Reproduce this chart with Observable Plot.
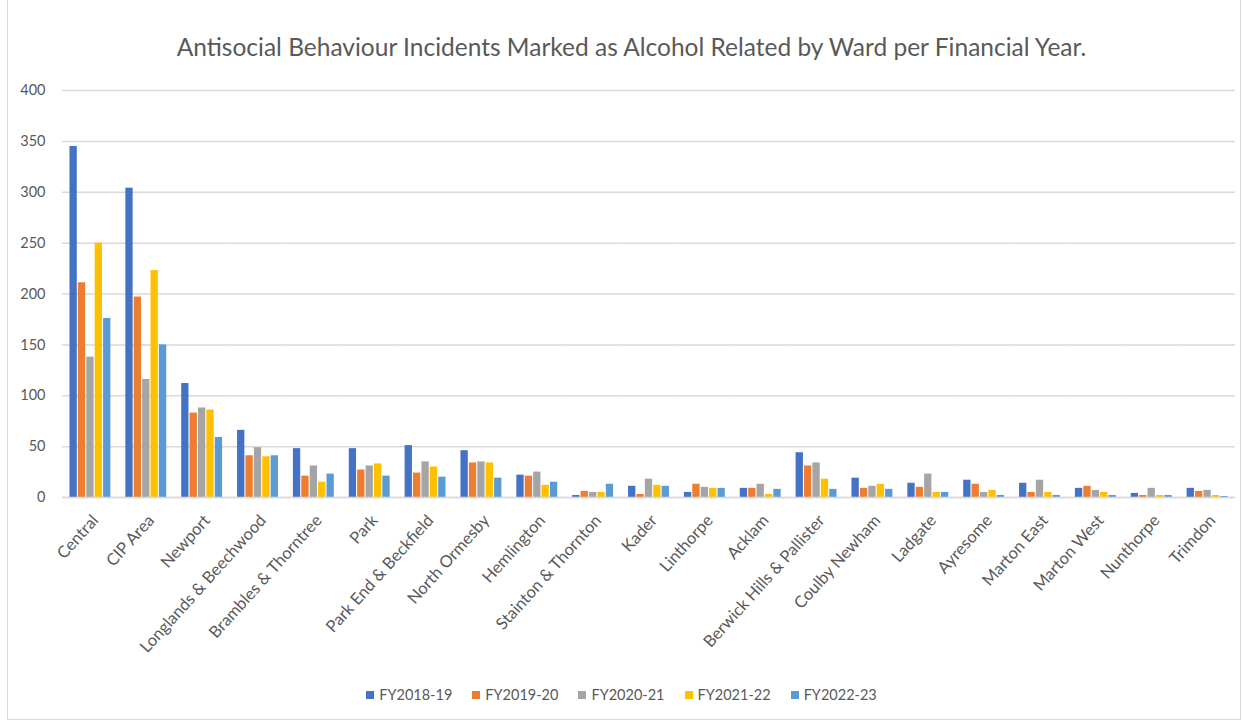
<!DOCTYPE html>
<html><head><meta charset="utf-8">
<script src="https://cdn.jsdelivr.net/npm/d3@7"></script>
<script src="https://cdn.jsdelivr.net/npm/@observablehq/plot@0.6"></script>
<style>
body{margin:0;background:#fff;font-family:Lato,"Open Sans",sans-serif;}
#frame{position:absolute;left:7px;top:-1px;width:1232px;height:719px;border:1px solid #d9d9d9;}
#title{position:absolute;top:35px;left:10px;width:1243px;text-align:center;font-size:24.5px;line-height:1;color:#595959;white-space:nowrap;}
#chart{position:absolute;top:75px;left:0;}
#legend{position:absolute;top:686px;left:0px;width:1243px;display:flex;justify-content:center;gap:20px;font-size:14.5px;line-height:18px;color:#595959;}
#legend .item{display:flex;align-items:center;gap:5px;}
#legend .sw{width:8px;height:8px;display:inline-block;}
</style></head>
<body>
<div id="frame"></div>
<div id="title">Antisocial Behaviour Incidents Marked as Alcohol Related by Ward per Financial Year.</div>
<div id="chart"></div>
<div id="legend"></div>
<script>
const wards = ["Central","CIP Area","Newport","Longlands & Beechwood","Brambles & Thorntree","Park","Park End & Beckfield","North Ormesby","Hemlington","Stainton & Thornton","Kader","Linthorpe","Acklam","Berwick Hills & Pallister","Coulby Newham","Ladgate","Ayresome","Marton East","Marton West","Nunthorpe","Trimdon"];
const years = ["FY2018-19","FY2019-20","FY2020-21","FY2021-22","FY2022-23"];
const fy1819 = [345,304,112,66,48,48,51,46,22,2,11,5,9,44,19,14,17,14,9,4,9];
const fy1920 = [211,197,83,41,21,27,24,34,21,6,3,13,9,31,9,10,13,5,11,2,6];
const fy2021 = [138,116,88,49,31,31,35,35,25,5,18,10,13,34,11,23,5,17,7,9,7];
const fy2122 = [250,223,86,40,15,33,30,34,12,5,12,9,3,18,13,5,7,5,5,2,2];
const fy2223 = [176,150,59,41,23,21,20,19,15,13,11,9,8,8,8,5,2,2,2,2,1];
const colors = ["#4472C4","#ED7D31","#A5A5A5","#FFC000","#5B9BD5"];
const yTicks = [0,50,100,150,200,250,300,350,400];

const series = [fy1819,fy1920,fy2021,fy2122,fy2223];
const data = [];
wards.forEach((w,i)=>series.forEach((s,j)=>data.push({ward:w,year:years[j],value:s[i]})));

const chart = Plot.plot({
  width:1243, height:600,
  marginLeft:62, marginRight:8, marginTop:15, marginBottom:178,
  style:{fontFamily:"Lato, 'Open Sans', sans-serif", color:"#595959"},
  fx:{domain:wards, padding:0, round:false, label:null},
  x:{domain:years, paddingInner:0.13, paddingOuter:0.89, round:false, axis:null},
  y:{domain:[0,400], label:null},
  color:{domain:years, range:colors},
  marks:[
    Plot.gridY(yTicks,{stroke:"#d9d9d9", strokeOpacity:1, strokeWidth:1.5}),
    Plot.axisY(yTicks,{tickSize:0, tickPadding:17, fontSize:14.5, fill:"#595959", label:null}),
    Plot.axisFx({anchor:"bottom", tickRotate:-48, tickSize:0, tickPadding:20, fontSize:16.5, fill:"#595959", label:null, dx:5}),
    Plot.barY(data,{fx:"ward", x:"year", y:"value", fill:"year"}),
    Plot.ruleY([0],{stroke:"#d9d9d9", strokeWidth:1.5})
  ]
});
document.getElementById("chart").appendChild(chart);

const lg = document.getElementById("legend");
years.forEach((y,i)=>{
  const it=document.createElement("span"); it.className="item";
  const sw=document.createElement("span"); sw.className="sw"; sw.style.background=colors[i];
  const t=document.createElement("span"); t.textContent=y;
  it.appendChild(sw); it.appendChild(t); lg.appendChild(it);
});
</script>
</body></html>
